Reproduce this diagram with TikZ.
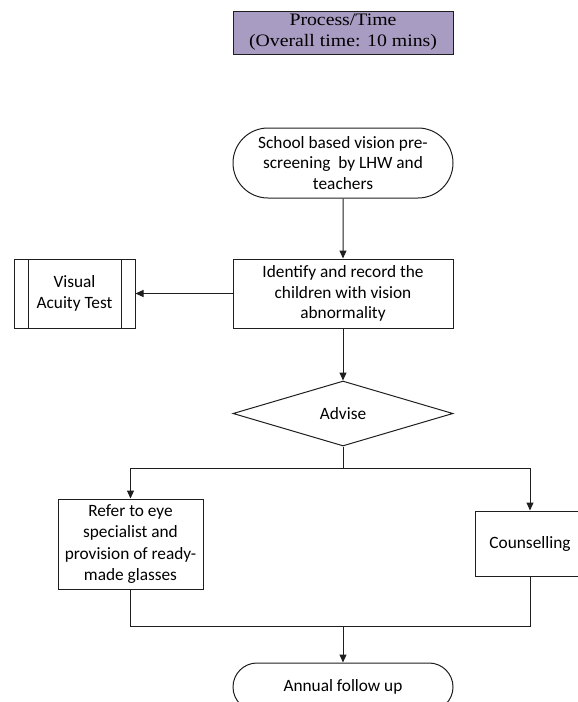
\documentclass[tikz,border=0pt]{standalone}
\usepackage{fontspec}
\setmainfont{Carlito}
\newfontfamily\titlefont[FakeStretch=1.13]{Liberation Serif}
\usetikzlibrary{shapes.geometric,shapes.misc,arrows.meta}
\definecolor{titlefill}{RGB}{168,156,194}
\definecolor{ln}{RGB}{30,30,30}
\tikzset{
  txt/.style={align=center,font=\fontsize{17.3}{20.5}\selectfont,inner sep=0pt},
  box/.style={txt,draw=ln,line width=1pt,rectangle},
  term/.style={txt,draw=ln,line width=1pt,rounded rectangle,rounded rectangle arc length=180},
  dec/.style={txt,draw=ln,line width=1pt,diamond},
  subproc/.style={box,path picture={
      \draw[ln,line width=1pt] ([xshift=14pt]path picture bounding box.north west) -- ([xshift=14pt]path picture bounding box.south west);
      \draw[ln,line width=1pt] ([xshift=-14pt]path picture bounding box.north east) -- ([xshift=-14pt]path picture bounding box.south east);}},
  conn/.style={draw=ln,line width=1pt},
  arr/.style={conn,-{Triangle[length=8pt,width=7pt]}}
}
\begin{document}
\begin{tikzpicture}[x=1pt,y=-1pt]
\useasboundingbox (0,0) rectangle (578,702);
\clip (0,0) rectangle (578,702);
% title
\node[draw=ln,line width=1pt,fill=titlefill,minimum width=220pt,minimum height=43pt,inner sep=0pt,align=center,
  font=\titlefont\fontsize{17.5}{21}\selectfont] (title) at (343,32.5) {Process/Time\\(Overall time: 10 mins)};
% nodes
\node[term,minimum width=220pt,minimum height=70pt] (start) at (343,163) {School based vision pre-\\screening\ \ by LHW and\\teachers};
\node[box,minimum width=220pt,minimum height=69pt] (ident) at (343,293.5) {Identify and record the\\children with vision\\abnormality};
\node[subproc,minimum width=121pt,minimum height=69pt] (va) at (74.5,293.5) {Visual\\Acuity Test};
\node[dec,minimum width=220pt,minimum height=65pt,aspect=3.38] (adv) at (343,413.5) {Advise};
\node[box,minimum width=145pt,minimum height=90pt,font=\fontsize{17.3}{21.5}\selectfont] (refer) at (130.5,544) {Refer to eye\\specialist and\\provision of ready-\\made glasses};
\node[box,minimum width=110pt,minimum height=65pt] (couns) at (530,543.5) {Counselling};
\node[term,minimum width=220pt,minimum height=48pt] (annual) at (343,687) {Annual follow up};
% junctions
\coordinate (bm) at (343,468);
\coordinate (mm) at (343,626);
% connectors
\draw[arr] (start) -- (ident);
\draw[arr] (ident.west) -- (va.east);
\draw[arr] (ident) -- (adv);
\draw[conn] (adv.south) -- (bm);
\draw[arr] (bm) -| (refer.north);
\draw[arr] (bm) -| (couns.north);
\draw[conn] (refer.south) |- (mm);
\draw[conn] (couns.south) |- (mm);
\draw[arr] (mm) -- (annual);
\end{tikzpicture}
\end{document}
